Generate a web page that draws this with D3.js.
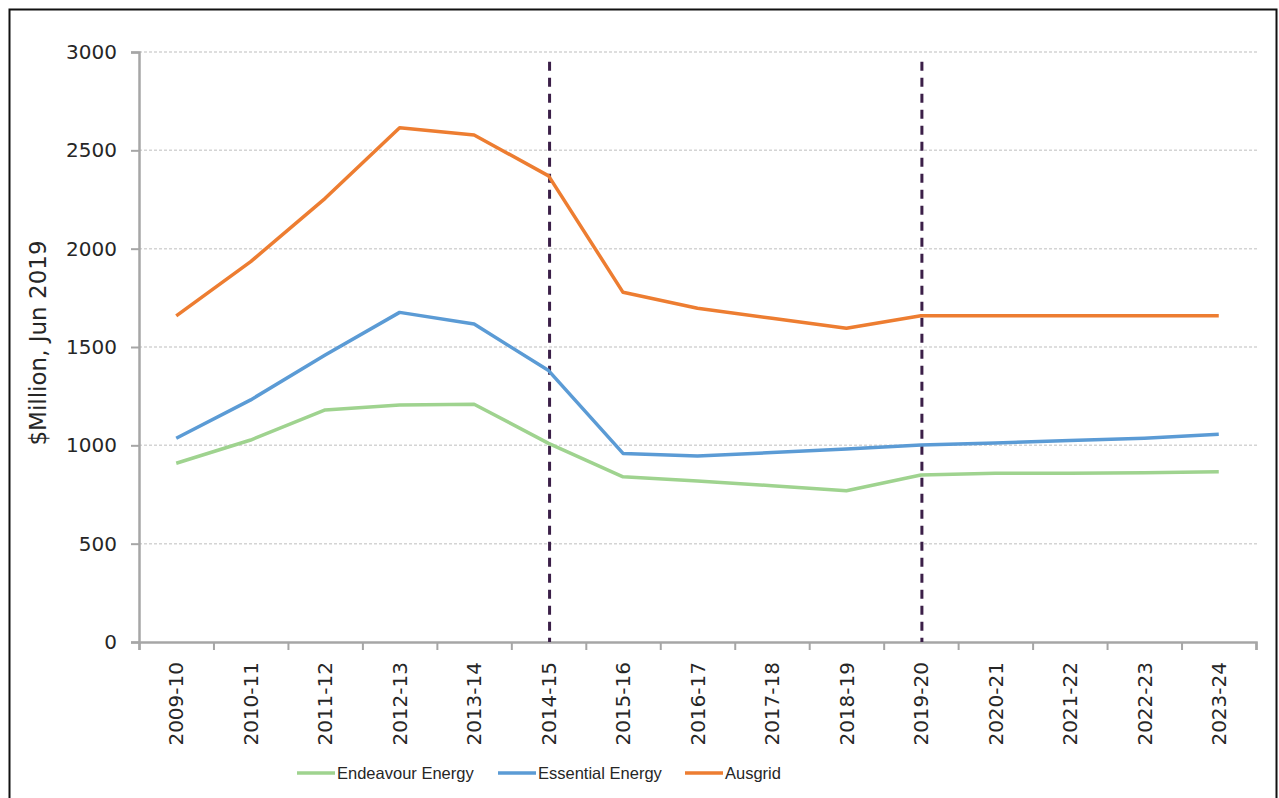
<!DOCTYPE html>
<html>
<head>
<meta charset="utf-8">
<script src="https://cdn.jsdelivr.net/npm/d3@7"></script>
<style>
  body { margin: 0; background: #fff; }
  svg text { font-family: "DejaVu Sans", sans-serif; fill: #262626; }
  .axis path, .axis line { stroke: #a6a6a6; }
  .grid line { stroke: #d4d4d4; stroke-width: 1.5; stroke-dasharray: 3,2; }
</style>
</head>
<body>
<div id="chart"></div>
<script>
const years = ["2009-10", "2010-11", "2011-12", "2012-13", "2013-14", "2014-15", "2015-16",
  "2016-17", "2017-18", "2018-19", "2019-20", "2020-21", "2021-22", "2022-23", "2023-24"];
const endeavour = [909, 1027, 1180, 1205, 1209, 1010, 840, 819, 795, 769, 849, 858, 858, 860, 866];
const essential = [1036, 1231, 1459, 1676, 1617, 1380, 959, 946, 963, 981, 1002, 1012, 1024, 1036, 1056];
const ausgrid = [1658, 1934, 2256, 2615, 2578, 2370, 1778, 1697, 1646, 1595, 1659, 1659, 1659, 1659, 1659];
const yTicks = [0, 500, 1000, 1500, 2000, 2500, 3000];
const markers = ["2014-15", "2019-20"];

const series = [
  { name: "Endeavour Energy", values: endeavour, color: "#9fd38f" },
  { name: "Essential Energy", values: essential, color: "#5b9bd5" },
  { name: "Ausgrid", values: ausgrid, color: "#ed7d31" }
];

const width = 1279, height = 798;
const plotLeft = 139, plotRight = 1256, plotTop = 52, plotBottom = 642;

const svg = d3.select("#chart").append("svg")
  .attr("width", width)
  .attr("height", height);

// outer frame
svg.append("rect")
  .attr("x", 9.5).attr("y", 9.5)
  .attr("width", 1267).attr("height", 800)
  .attr("fill", "none")
  .attr("stroke", "#111")
  .attr("stroke-width", 2);

const x = d3.scaleBand().domain(years).range([plotLeft, plotRight]).padding(0);
const xEdge = d3.scaleLinear().domain([0, years.length]).range([plotLeft, plotRight]);
const y = d3.scaleLinear().domain([0, 3000]).range([plotBottom, plotTop]);

// gridlines
svg.append("g").attr("class", "grid")
  .selectAll("line")
  .data(yTicks.filter(d => d > 0))
  .enter().append("line")
  .attr("x1", plotLeft).attr("x2", plotRight + 1)
  .attr("y1", d => y(d)).attr("y2", d => y(d));

// y axis
const yAxis = svg.append("g").attr("class", "axis")
  .attr("transform", `translate(${plotLeft},0)`)
  .call(d3.axisLeft(y).tickValues(yTicks).tickFormat(d3.format("d")).tickSize(8).tickPadding(14));
yAxis.select(".domain").attr("stroke-width", 2.5);
yAxis.selectAll("line").attr("stroke-width", 2);
yAxis.selectAll("text").style("font-size", "20px");

// x axis: ticks on band edges
const xAxis = svg.append("g").attr("class", "axis")
  .attr("transform", `translate(0,${plotBottom})`)
  .call(d3.axisBottom(xEdge).tickValues(d3.range(years.length + 1)).tickSize(8).tickFormat(""));
xAxis.select(".domain").attr("stroke-width", 2.5);
xAxis.selectAll("line").attr("stroke-width", 2);

// x labels, rotated
svg.append("g")
  .attr("transform", `translate(0,${plotBottom})`)
  .call(d3.axisBottom(x).tickSize(0).tickPadding(0))
  .call(g => g.select(".domain").remove())
  .selectAll("text")
  .attr("transform", "rotate(-90)")
  .attr("x", -20)
  .attr("y", 0)
  .attr("dy", "0.36em")
  .style("text-anchor", "end")
  .style("font-size", "20px");

// vertical dashed markers
svg.selectAll(".marker")
  .data(markers)
  .enter().append("line")
  .attr("class", "marker")
  .attr("x1", d => x(d) + x.bandwidth() / 2 + 1)
  .attr("x2", d => x(d) + x.bandwidth() / 2 + 1)
  .attr("y1", y(2950))
  .attr("y2", plotBottom)
  .attr("stroke", "#3b1f48")
  .attr("stroke-width", 3)
  .attr("stroke-dasharray", "9,7");

// series lines
const line = d3.line()
  .x((d, i) => x(years[i]) + x.bandwidth() / 2)
  .y(d => y(d));

svg.selectAll(".series")
  .data(series)
  .enter().append("path")
  .attr("class", "series")
  .attr("d", d => line(d.values))
  .attr("fill", "none")
  .attr("stroke", d => d.color)
  .attr("stroke-width", 3.5)
  .attr("stroke-linejoin", "round");

// y axis title
svg.append("text")
  .attr("transform", "translate(46,343) rotate(-90)")
  .attr("text-anchor", "middle")
  .style("font-size", "23px")
  .text("$Million, Jun 2019");

// legend
const legendX = [297, 498, 685];
const legend = svg.selectAll(".legend")
  .data(series)
  .enter().append("g")
  .attr("class", "legend")
  .attr("transform", (d, i) => `translate(${legendX[i]},773)`);

legend.append("line")
  .attr("x1", 0).attr("x2", 38)
  .attr("stroke", d => d.color)
  .attr("stroke-width", 3.5);

legend.append("text")
  .attr("x", 40)
  .attr("dy", "0.36em")
  .style("font-family", "'Liberation Sans', Arial, sans-serif")
  .style("font-size", "16.5px")
  .text(d => d.name);
</script>
</body>
</html>
